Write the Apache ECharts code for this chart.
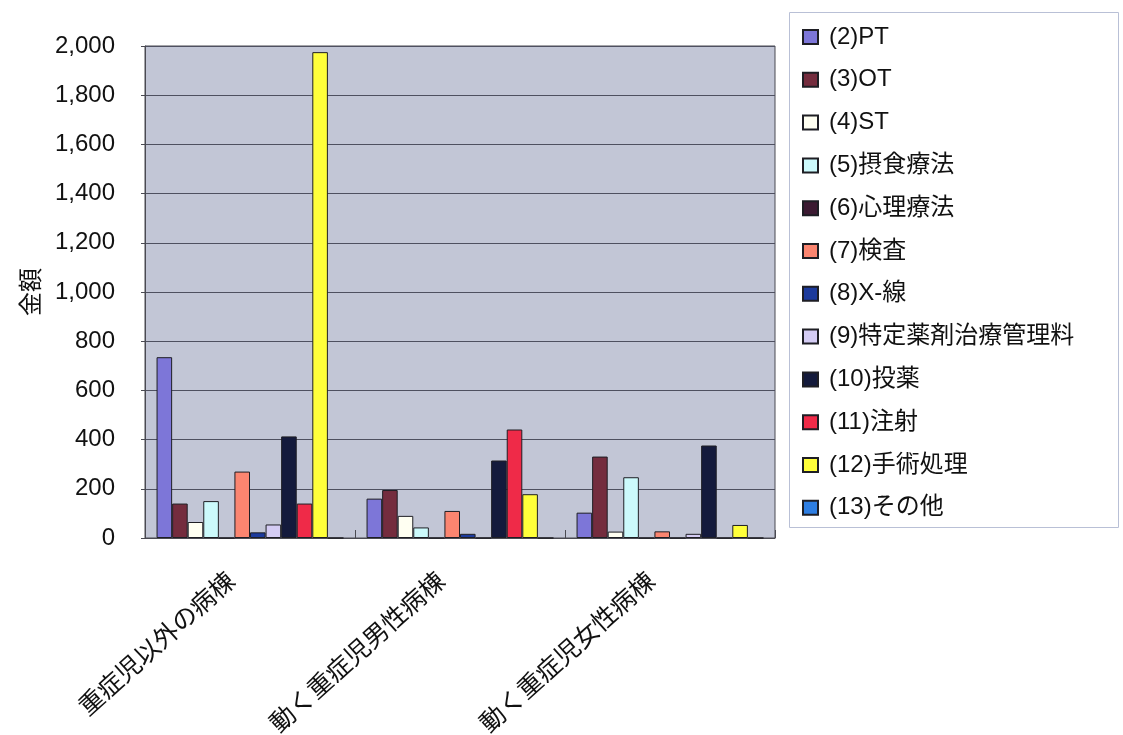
<!DOCTYPE html>
<html>
<head>
<meta charset="utf-8">
<script src="https://cdn.jsdelivr.net/npm/echarts@6/dist/echarts.min.js"></script>
<style>
  html, body { margin: 0; padding: 0; background: #ffffff; }
  #chart { width: 1123px; height: 735px; }
</style>
</head>
<body>
<div id="chart"></div>
<script>
// Wards on the category axis
const wards = ['重症児以外の病棟', '動く重症児男性病棟', '動く重症児女性病棟'];

// Amount per item, one value per ward
const ptValues      = [735, 160, 103];
const otValues      = [140, 195, 331];
const stValues      = [65, 90, 26];
const feedingValues = [150, 43, 247];
const psychValues   = [0, 0, 0];
const testValues    = [270, 110, 27];
const xrayValues    = [23, 17, 0];
const drugMgmtValues = [55, 0, 17];
const medicationValues = [413, 315, 376];
const injectionValues  = [140, 441, 0];
const surgeryValues    = [1975, 178, 53];
const otherValues      = [0, 0, 0];

const seriesNames = ['(2)PT', '(3)OT', '(4)ST', '(5)摂食療法', '(6)心理療法', '(7)検査',
  '(8)X-線', '(9)特定薬剤治療管理料', '(10)投薬', '(11)注射', '(12)手術処理', '(13)その他'];
const seriesValues = [ptValues, otValues, stValues, feedingValues, psychValues, testValues,
  xrayValues, drugMgmtValues, medicationValues, injectionValues, surgeryValues, otherValues];
const seriesColors = ['#7d76d8', '#742c3e', '#fffff2', '#ccfafc', '#3c1a32', '#fb8570',
  '#1c3a9c', '#d4ccf4', '#141a3c', '#ef2a48', '#ffff3a', '#2e7ee2'];

// Y axis range
const yMin = 0, yMax = 2000, yStep = 200;

const fontFamily = '"Liberation Sans", "Noto Sans CJK JP", sans-serif';

const chart = echarts.init(document.getElementById('chart'), null, { renderer: 'canvas' });

chart.setOption({
  animation: false,
  backgroundColor: '#ffffff',
  textStyle: { fontFamily: fontFamily, color: '#111' },
  grid: {
    left: 145, right: 348, top: 46, bottom: 197,
    containLabel: false,
    outerBoundsMode: 'none',
    show: true,
    backgroundColor: '#c2c6d6',
    borderColor: '#4a4a52',
    borderWidth: 1
  },
  // legend frame
  graphic: [{
    type: 'rect',
    left: 789, top: 12,
    shape: { width: 329, height: 515 },
    style: { fill: '#ffffff', stroke: '#b9c0d6', lineWidth: 1 },
    z: 0
  }],
  legend: {
    orient: 'vertical',
    left: 802, top: 25,
    padding: 0,
    icon: 'rect',
    itemWidth: 15, itemHeight: 14,
    itemGap: 18.8,
    textStyle: { fontSize: 24, lineHeight: 24, color: '#111', fontFamily: fontFamily, padding: [0, 0, 0, 6] },
    data: seriesNames,
    z: 5
  },
  xAxis: {
    type: 'category',
    data: wards,
    axisLine: { lineStyle: { color: '#4a4a52', width: 1 } },
    axisTick: { show: true, inside: true, length: 8, lineStyle: { color: '#4a4a52' } },
    axisLabel: {
      rotate: 42, fontSize: 25, margin: 24, color: '#111', fontFamily: fontFamily,
      padding: [0, 24, 0, 0]
    }
  },
  yAxis: {
    type: 'value',
    min: yMin, max: yMax, interval: yStep,
    name: '金額',
    nameLocation: 'middle',
    nameGap: 100,
    nameRotate: 90,
    nameTextStyle: { fontSize: 24, color: '#111', fontFamily: fontFamily },
    axisLine: { show: true, lineStyle: { color: '#4a4a52' } },
    axisTick: { show: true, length: 4, lineStyle: { color: '#4a4a52' } },
    splitLine: { lineStyle: { color: '#4e5060', width: 1 } },
    axisLabel: {
      fontSize: 24, margin: 30, color: '#111', fontFamily: fontFamily,
      formatter: v => v.toLocaleString('en-US')
    }
  },
  series: seriesNames.map((name, i) => ({
    name: name,
    type: 'bar',
    data: seriesValues[i],
    barGap: '0%',
    barCategoryGap: '11%',
    itemStyle: { color: seriesColors[i], borderColor: '#1e1e24', borderWidth: 1 }
  }))
});
</script>
</body>
</html>
